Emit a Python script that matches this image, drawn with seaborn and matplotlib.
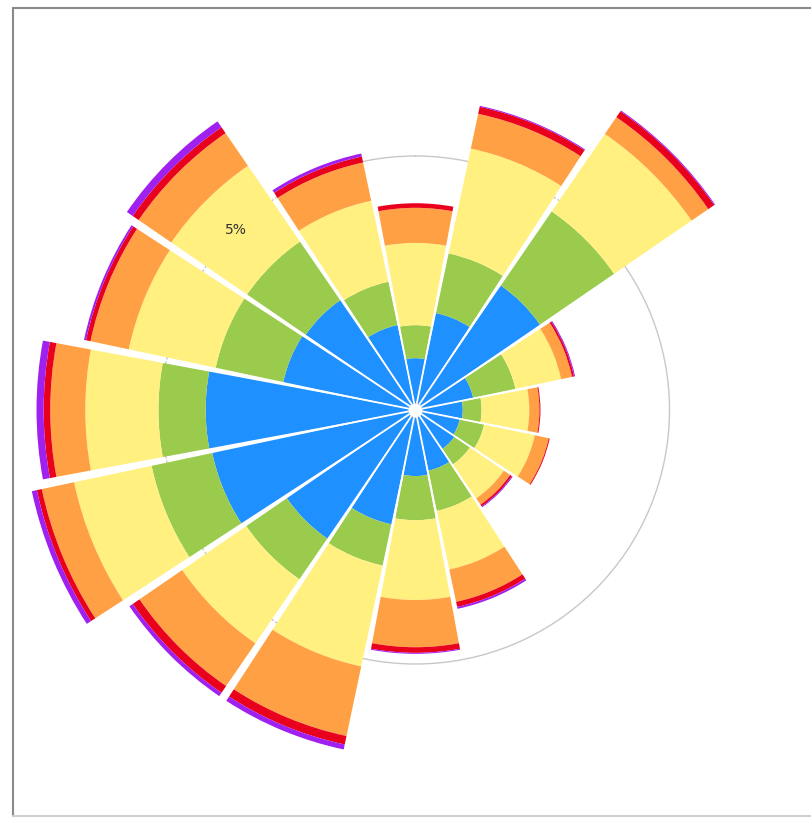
import numpy as np
import pandas as pd
import matplotlib
matplotlib.use("Agg")
import matplotlib.pyplot as plt
from matplotlib.lines import Line2D
import seaborn as sns

# wind directions, clockwise from north
directions = ["N", "NNE", "NE", "ENE", "E", "ESE", "SE", "SSE",
              "S", "SSW", "SW", "WSW", "W", "WNW", "NW", "NNW"]

# frequency (%) per speed class
speed_1 = [1.02, 1.95, 2.97, 1.16, 0.93, 0.89, 0.93, 1.22, 1.30, 2.30, 3.07, 4.09, 4.13, 2.66, 2.62, 1.71]
speed_2 = [0.65, 1.20, 1.77, 0.85, 0.37, 0.49, 0.37, 0.81, 0.87, 0.83, 0.97, 1.22, 0.93, 1.36, 1.40, 0.87]
speed_3 = [1.62, 2.11, 1.85, 0.92, 0.94, 1.02, 0.81, 1.18, 1.57, 2.03, 1.53, 1.56, 1.44, 1.75, 1.81, 1.63]
speed_4 = [0.69, 0.70, 0.40, 0.22, 0.20, 0.28, 0.15, 0.65, 0.93, 1.40, 1.02, 0.65, 0.69, 0.77, 0.78, 0.77]
speed_5 = [0.09, 0.14, 0.14, 0.04, 0.02, 0.02, 0.04, 0.10, 0.11, 0.17, 0.16, 0.10, 0.13, 0.09, 0.14, 0.12]
speed_6 = [0.00, 0.02, 0.02, 0.02, 0.00, 0.00, 0.02, 0.04, 0.02, 0.10, 0.08, 0.10, 0.14, 0.04, 0.14, 0.06]

classes = ["speed_1", "speed_2", "speed_3", "speed_4", "speed_5", "speed_6"]
colors = ["#1E90FF", "#9ACB4C", "#FFF080", "#FFA045", "#E8001C", "#A020F0"]

df = pd.DataFrame({"direction": directions, "speed_1": speed_1, "speed_2": speed_2,
                   "speed_3": speed_3, "speed_4": speed_4, "speed_5": speed_5,
                   "speed_6": speed_6})

sns.set_theme(style="white")

W, H = 811, 819
fig = plt.figure(figsize=(W / 100, H / 100), dpi=100)
fig.patch.set_facecolor("white")

rmax = 8.0
px_per_pct = 50.8
cx, cy = 415.5, 819 - 410
rad = rmax * px_per_pct
ax = fig.add_axes([(cx - rad) / W, (cy - rad) / H, 2 * rad / W, 2 * rad / H],
                  projection="polar")
ax.set_theta_zero_location("N")
ax.set_theta_direction(-1)
ax.set_facecolor("none")

step = 2 * np.pi / len(directions)
theta = np.arange(len(directions)) * step
width = step - np.deg2rad(1.4)

bottom = np.zeros(len(directions))
for name, col in zip(classes, colors):
    vals = df[name].to_numpy()
    ax.bar(theta, vals, width=width, bottom=bottom, color=col,
           edgecolor="none", linewidth=0, zorder=2)
    bottom += vals

# thin white separators between sectors, only where both neighbours have bars
totals = bottom
for i, t in enumerate(theta + step / 2):
    reach = min(totals[i], totals[(i + 1) % len(totals)])
    ax.plot([t, t], [0, reach], color="white", lw=1.3, zorder=3)

ax.plot([0], [0], "o", color="white", markersize=10, zorder=4,
        markeredgecolor="#dddddd", markeredgewidth=0.5)

ax.set_ylim(0, rmax)
ax.set_rticks([5])
ax.set_yticklabels([])
ax.yaxis.grid(True, color="#c8c8c8", lw=1.0)
ax.set_axisbelow(True)
ax.xaxis.grid(False)
ax.set_xticks([])
ax.spines["polar"].set_visible(False)
ax.text(np.deg2rad(315), 5, "5%", ha="center", va="center",
        fontsize=10, color="#333333", zorder=6)

# frame around the picture
fig.add_artist(Line2D([12.5 / W, 12.5 / W], [(H - 7.5) / H, (H - 816) / H],
                      transform=fig.transFigure, color="#8a8a8a", lw=1.5))
fig.add_artist(Line2D([12.5 / W, 1.0], [(H - 7.5) / H, (H - 7.5) / H],
                      transform=fig.transFigure, color="#8a8a8a", lw=1.5))
fig.add_artist(Line2D([12.5 / W, 1.0], [(H - 816) / H, (H - 816) / H],
                      transform=fig.transFigure, color="#d0d0d0", lw=1.5))

fig.savefig("out.png", dpi=100, facecolor="white")
